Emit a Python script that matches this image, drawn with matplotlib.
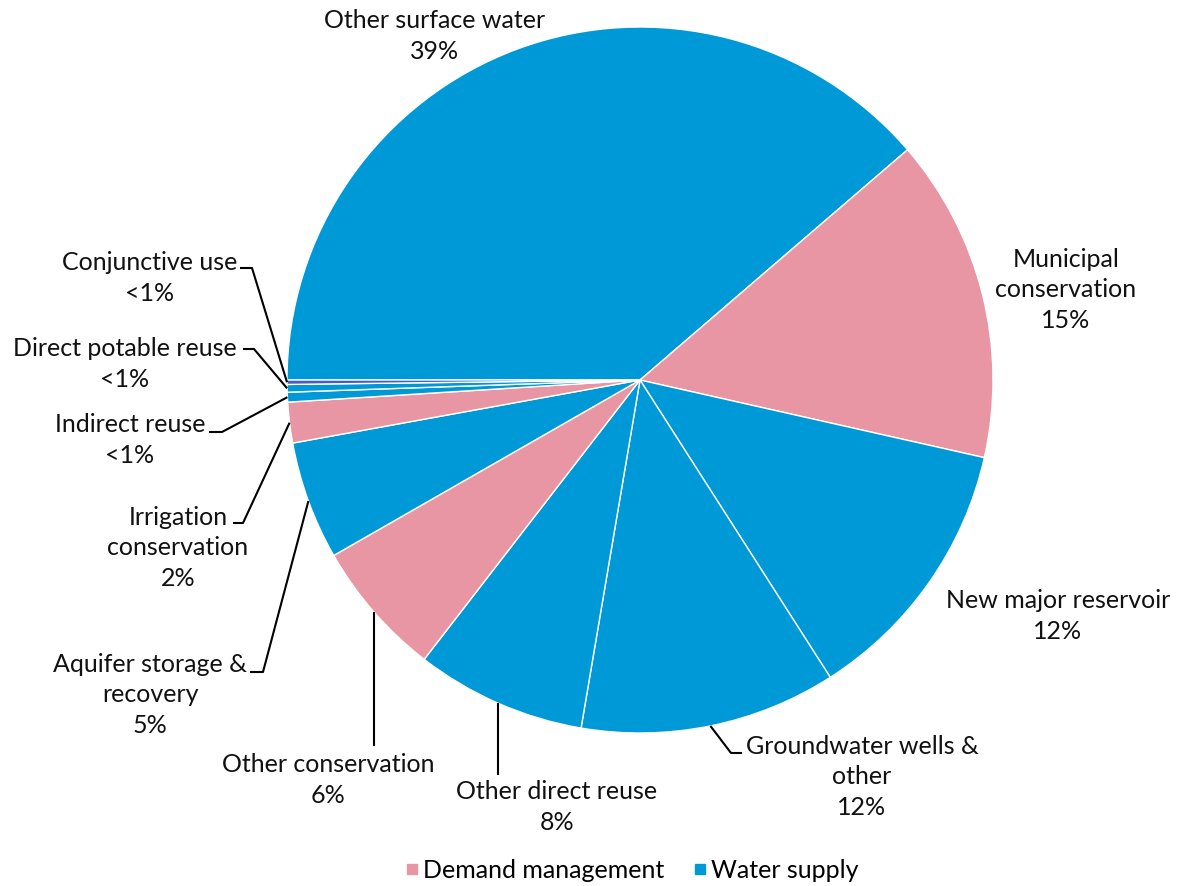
import matplotlib.pyplot as plt
import numpy as np
from matplotlib.lines import Line2D

plt.rcParams['font.family'] = ['Lato', 'DejaVu Sans']

# --- data ---
labels = ["Other surface water", "Municipal\nconservation", "New major reservoir",
          "Groundwater wells &\nother", "Other direct reuse", "Other conservation",
          "Aquifer storage &\nrecovery", "Irrigation\nconservation", "Indirect reuse",
          "Direct potable reuse", "Conjunctive use"]
shares = [38.69, 14.84, 12.41, 11.73, 7.80, 6.25, 5.42, 1.86, 0.45, 0.35, 0.20]
pct_text = ["39%", "15%", "12%", "12%", "8%", "6%", "5%", "2%", "<1%", "<1%", "<1%"]
groups = ["supply", "demand", "supply", "supply", "supply", "demand", "supply",
          "demand", "supply", "supply", "conj"]
legend_names = ["Demand management", "Water supply"]

colors = {"supply": "#0099D7", "demand": "#E896A3", "conj": "#4B5DB5"}

# --- layout (pixel positions in the 1178x886 figure) ---
W, H = 1178, 886
CX, CY, R = 640, 380, 353


def px(x, y):
    return (x - CX) / R, (CY - y) / R


label_pos = [(435, 36), (1066, 290), (1058, 616), (862, 777), (557, 807), (328, 780),
             (150, 695), (178, 548), (130, 440), (125, 364), (150, 278)]
# (elbow, end) of leader lines, None = no leader
leaders = [None, None, None,
           ((731, 753), (742, 753)),
           ((None, 775), None),
           ((None, 746), None),
           ((263, 672), (250, 672)),
           ((243, 523), (233, 523)),
           ((222, 432), (209, 432)),
           ((254, 349), (243, 349)),
           ((252, 268), (240, 268))]

fig = plt.figure(figsize=(W / 100, H / 100), dpi=100)
ax = fig.add_axes([0, 0, 1, 1])

wedges, _ = ax.pie(shares, colors=[colors[g] for g in groups], startangle=180,
                   counterclock=False, radius=1.0,
                   wedgeprops=dict(edgecolor='white', linewidth=1.0))

for i, w in enumerate(wedges):
    tx, ty = px(*label_pos[i])
    ax.text(tx, ty, labels[i] + "\n" + pct_text[i], ha='center', va='center',
            fontsize=18, linespacing=1.42, color='#111111')
    if leaders[i] is None:
        continue
    mid = np.deg2rad((w.theta1 + w.theta2) / 2)
    sx, sy = np.cos(mid), np.sin(mid)
    elbow, end = leaders[i]
    xs, ys = [sx], [sy]
    if elbow[0] is None:
        xs.append(sx)
        ys.append(px(0, elbow[1])[1])
    else:
        ex, ey = px(*elbow)
        xs.append(ex)
        ys.append(ey)
    if end is not None:
        ex, ey = px(*end)
        xs.append(ex)
        ys.append(ey)
    ax.plot(xs, ys, color='black', linewidth=1.5, solid_capstyle='butt')

ax.set_xlim(-CX / R, (W - CX) / R)
ax.set_ylim((CY - H) / R, CY / R)
ax.set_aspect('equal')
ax.axis('off')

handles = [Line2D([], [], marker='s', linestyle='none', markersize=7.5,
                  color=colors["demand"]),
           Line2D([], [], marker='s', linestyle='none', markersize=7.5,
                  color=colors["supply"])]
fig.legend(handles, legend_names, loc='center', bbox_to_anchor=(0.535, 1 - 870 / H),
           ncol=2, frameon=False, fontsize=18, handletextpad=0.05,
           columnspacing=1.0, handlelength=0.8)

plt.savefig("out.png", dpi=100)
